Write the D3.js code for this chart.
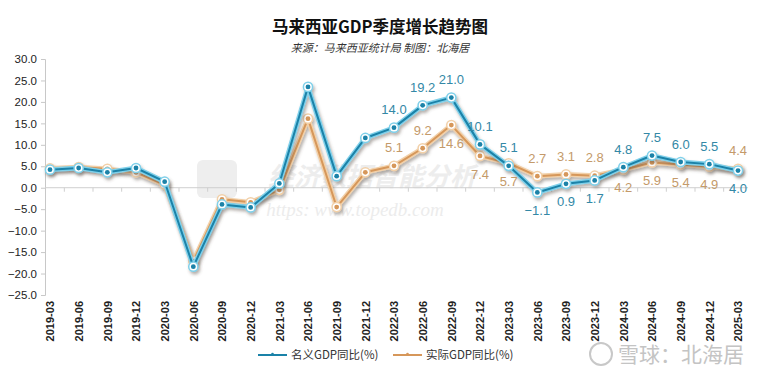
<!DOCTYPE html>
<html>
<head>
<meta charset="utf-8">
<script src="https://cdn.jsdelivr.net/npm/d3@7"></script>
<style>
  body { margin: 0; background: #fff; }
  svg { display: block; font-family: "Liberation Sans Narrow", "Liberation Sans", Arial, sans-serif; }
</style>
</head>
<body>
<script>
const W = 760, H = 379

// data
const quarters = ["2019-03", "2019-06", "2019-09", "2019-12", "2020-03", "2020-06", "2020-09", "2020-12",
  "2021-03", "2021-06", "2021-09", "2021-12", "2022-03", "2022-06", "2022-09", "2022-12",
  "2023-03", "2023-06", "2023-09", "2023-12", "2024-03", "2024-06", "2024-09", "2024-12", "2025-03"]
const nominal = [4.2, 4.6, 3.6, 4.6, 1.4, -18.4, -3.9, -4.6, 1.0, 23.5, 2.7, 11.6,
  14.0, 19.2, 21.0, 10.1, 5.1, -1.1, 0.9, 1.7, 4.8, 7.5, 6.0, 5.5, 4.0]
const real = [4.5, 4.8, 4.4, 3.6, 0.7, -17.1, -2.7, -3.4, -0.5, 16.1, -4.5, 3.6,
  5.1, 9.2, 14.6, 7.4, 5.7, 2.7, 3.1, 2.8, 4.2, 5.9, 5.4, 4.9, 4.4]
const yTicks = [30, 25, 20, 15, 10, 5, 0, -5, -10, -15, -20, -25]
const seriesNames = ["名义GDP同比(%)", "实际GDP同比(%)"]

// label placement: -1 above, 1 below, 0 none
const nomLabelDir = [0,0,0,0,0,0,0,0,0,0,0,0, -1,-1,-1,-1,-1, 1,1,1, -1,-1,-1,-1, 1]
const realLabelDir = [0,0,0,0,0,0,0,0,0,0,0,0, -1,-1,1,1,1, -1,-1,-1, 1,1,1,1, -1]

const svg = d3.select("body").append("svg")
  .attr("width", W)
  .attr("height", H)

const defs = svg.append("defs")
defs.append("filter").attr("id", "shadow")
  .attr("x", "-10%").attr("y", "-10%").attr("width", "120%").attr("height", "130%")
  .append("feDropShadow")
  .attr("dx", 1.5).attr("dy", 2.5).attr("stdDeviation", 1.6)
  .attr("flood-color", "#5a5044").attr("flood-opacity", 0.45)

const x = d3.scalePoint().domain(quarters).range([50, 738])
const y = d3.scaleLinear().domain([-25, 30]).range([295, 59])

// title
svg.append("text")
  .attr("x", 380).attr("y", 33)
  .attr("text-anchor", "middle")
  .style("font-family", "'Noto Sans CJK SC', sans-serif")
  .style("font-size", "16.5px").style("font-weight", "bold")
  .attr("fill", "#111")
  .text("马来西亚GDP季度增长趋势图")
svg.append("text")
  .attr("x", 380).attr("y", 52)
  .attr("text-anchor", "middle")
  .style("font-family", "'Noto Sans CJK SC', sans-serif")
  .style("font-size", "11px").style("font-style", "italic")
  .attr("fill", "#333")
  .text("来源：马来西亚统计局 制图：北海居")

// watermarks
svg.append("rect")
  .attr("x", 197).attr("y", 160).attr("width", 40).attr("height", 38).attr("rx", 6)
  .attr("fill", "#eeeeee")
svg.append("text")
  .attr("x", 372).attr("y", 186)
  .attr("text-anchor", "middle")
  .style("font-family", "'Noto Sans CJK SC', sans-serif")
  .style("font-size", "26px").style("font-style", "italic").style("font-weight", "bold")
  .attr("fill", "#ededed")
  .text("经济数据智能分析")
svg.append("text")
  .attr("x", 355).attr("y", 216)
  .attr("text-anchor", "middle")
  .style("font-family", "'Liberation Serif', serif")
  .style("font-size", "19px").style("font-style", "italic")
  .attr("fill", "#ececec")
  .text("https:  www.topedb.com")

// y axis
const yAxis = d3.axisLeft(y).tickValues(yTicks).tickFormat(d3.format(".1f")).tickSize(4)
const gy = svg.append("g")
  .attr("transform", "translate(45,0)")
  .call(yAxis)
gy.select(".domain").attr("stroke", "#c8c8c8")
gy.selectAll(".tick line").attr("stroke", "#c8c8c8")
gy.selectAll(".tick text")
  .attr("x", -8)
  .attr("fill", "#222")
  .style("font-size", "11.5px")

// zero line with category ticks
svg.append("line")
  .attr("x1", 45).attr("x2", 748)
  .attr("y1", y(0)).attr("y2", y(0))
  .attr("stroke", "#cfcfcf")
svg.selectAll(".ztick")
  .data(quarters.slice(1))
  .enter()
  .append("line")
  .attr("x1", d => x(d) - x.step() / 2)
  .attr("x2", d => x(d) - x.step() / 2)
  .attr("y1", y(0)).attr("y2", y(0) + 4)
  .attr("stroke", "#cfcfcf")

// x labels
const xAxis = d3.axisBottom(x).tickSize(0)
const gx = svg.append("g")
  .attr("transform", "translate(0,299)")
  .call(xAxis)
gx.select(".domain").remove()
gx.selectAll(".tick text")
  .attr("transform", "rotate(-90)")
  .attr("x", -2).attr("y", 0).attr("dy", "0.35em")
  .attr("text-anchor", "end")
  .attr("fill", "#222")
  .style("font-family", "'Liberation Sans', Arial, sans-serif")
  .style("font-size", "11px").style("font-weight", "bold")

const series = [
  { name: seriesNames[0], values: nominal, dirs: nomLabelDir, core: "#1a82a8", light: "#7fd0ea", label: "#3388a6" },
  { name: seriesNames[1], values: real, dirs: realLabelDir, core: "#d6975a", light: "#f2d0a8", label: "#c49a6a" }
]

const line = d3.line()
  .x((d, i) => x(quarters[i]))
  .y(d => y(d))

// draw real first, then nominal on top
series.slice().reverse().forEach(s => {
  const g = svg.append("g").attr("filter", "url(#shadow)")
  g.append("path")
    .datum(s.values)
    .attr("d", line)
    .attr("fill", "none")
    .attr("stroke", s.light)
    .attr("stroke-width", 4.8)
    .attr("stroke-linejoin", "round")
  g.append("path")
    .datum(s.values)
    .attr("d", line)
    .attr("fill", "none")
    .attr("stroke", s.core)
    .attr("stroke-width", 2)
    .attr("stroke-linejoin", "round")
  g.selectAll(".m")
    .data(s.values)
    .enter()
    .append("circle")
    .attr("cx", (d, i) => x(quarters[i]))
    .attr("cy", d => y(d))
    .attr("r", 4.6)
    .attr("fill", "#fff")
    .attr("stroke", s.light)
    .attr("stroke-width", 1.5)
  g.selectAll(".c")
    .data(s.values)
    .enter()
    .append("circle")
    .attr("cx", (d, i) => x(quarters[i]))
    .attr("cy", d => y(d))
    .attr("r", 2.4)
    .attr("fill", s.core)
})

// data labels
series.forEach(s => {
  svg.append("g").selectAll("text")
    .data(s.values.map((v, i) => ({ v: v, i: i, dir: s.dirs[i] })).filter(d => d.dir !== 0))
    .enter()
    .append("text")
    .attr("x", d => x(quarters[d.i]))
    .attr("y", d => y(d.v) + d.dir * 18)
    .attr("dy", "0.35em")
    .attr("text-anchor", "middle")
    .attr("fill", s.label)
    .style("font-size", "13px")
    .text(d => d3.format(".1f")(d.v))
})

// legend
const legend = svg.append("g").attr("transform", "translate(0,355)")
const legX = [258, 393]
series.forEach((s, i) => {
  const lg = legend.append("g").attr("transform", "translate(" + legX[i] + ",0)")
  lg.append("line").attr("x1", 0).attr("x2", 29).attr("y1", 0).attr("y2", 0)
    .attr("stroke", s.core).attr("stroke-width", 2)
  lg.append("circle").attr("cx", 14.5).attr("cy", -1).attr("r", 1.3).attr("fill", s.core)
  lg.append("text")
    .attr("x", 33).attr("y", 0).attr("dy", "0.35em")
    .attr("fill", "#333")
    .style("font-family", "'Noto Sans CJK SC', sans-serif")
    .style("font-size", "11.5px")
    .text(s.name)
})

// site watermark
svg.append("circle").attr("cx", 601).attr("cy", 354).attr("r", 11)
  .attr("fill", "none").attr("stroke", "#c8c8c8").attr("stroke-width", 2)
svg.append("text")
  .attr("x", 618).attr("y", 355).attr("dy", "0.35em")
  .style("font-family", "'Noto Sans CJK SC', sans-serif")
  .style("font-size", "21px")
  .attr("fill", "#c4c4c4")
  .text("雪球：北海居")
</script>
</body>
</html>
